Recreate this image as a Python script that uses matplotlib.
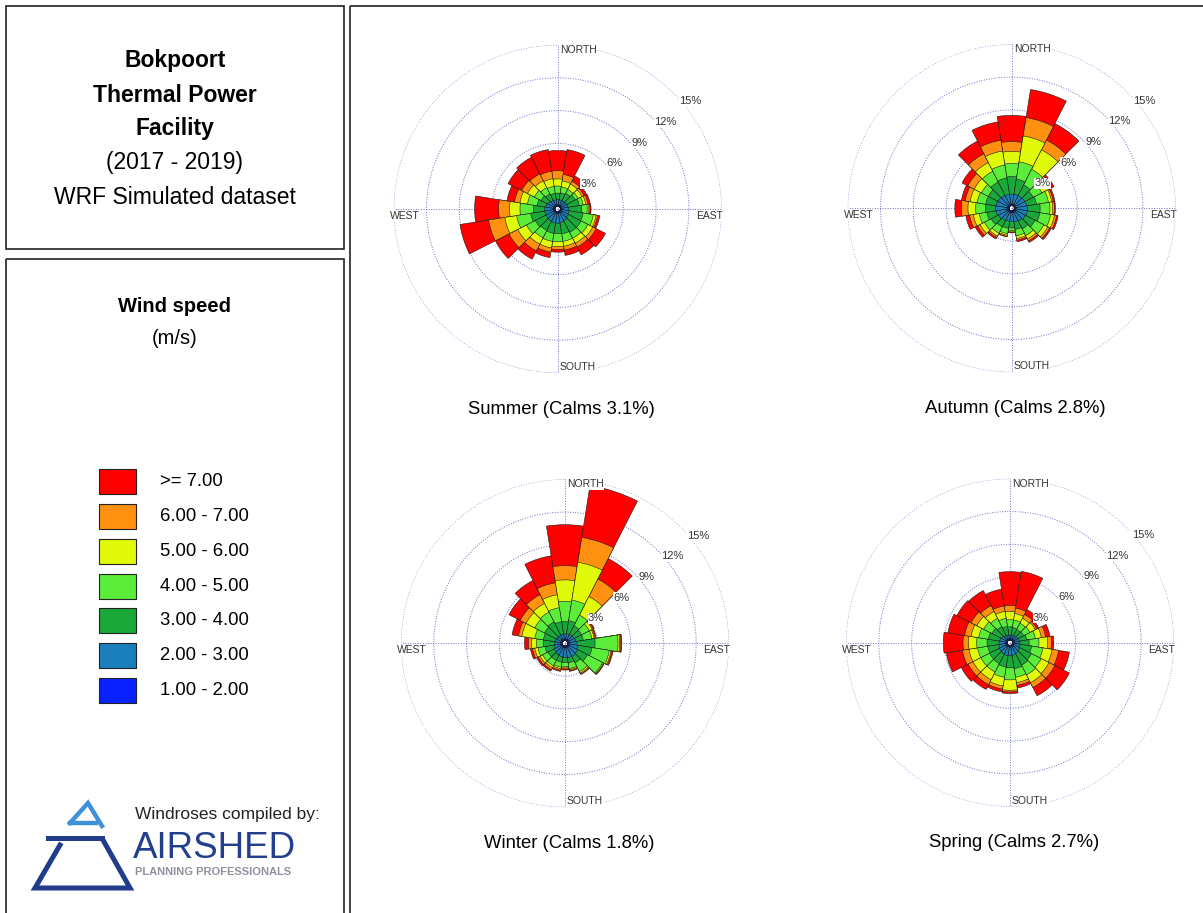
import numpy as np
import matplotlib.pyplot as plt
from matplotlib import font_manager
from matplotlib.patches import Rectangle
from matplotlib.transforms import offset_copy

W, H = 1203, 913

# sector centres, degrees clockwise from north
directions = np.arange(0, 360, 18)

speed_labels = [">= 7.00", "6.00 - 7.00", "5.00 - 6.00", "4.00 - 5.00",
                "3.00 - 4.00", "2.00 - 3.00", "1.00 - 2.00"]
speed_colors = ["#ff0000", "#ff9010", "#e1fa0a", "#5cec3a",
                "#1ba83a", "#1c7fbd", "#0a22ff"]   # same order as labels

# cumulative frequency (%) up to the top of each class: 1-2, 2-3, ... , >=7
summer = [
    [0.4] * 20,
    [0.85, 0.85, 0.85, 0.9, 0.95, 1.0, 1.05, 1.1, 1.2, 1.25, 1.3, 1.3, 1.25, 1.2, 1.2, 1.2, 1.1, 1.0, 0.9, 0.85],
    [1.45, 1.5, 1.6, 1.8, 2.0, 2.2, 2.35, 2.4, 2.4, 2.3, 2.25, 2.25, 2.2, 2.3, 2.5, 2.2, 1.9, 1.7, 1.55, 1.45],
    [2.1, 2.05, 2.0, 2.1, 2.35, 2.7, 3.3, 3.1, 3.0, 3.0, 3.0, 3.0, 2.95, 3.2, 3.8, 3.45, 2.8, 2.4, 2.2, 2.1],
    [2.75, 2.6, 2.55, 2.5, 2.6, 2.85, 3.55, 3.6, 3.5, 3.45, 3.45, 3.6, 3.6, 4.1, 4.9, 4.4, 3.5, 3.1, 2.9, 2.8],
    [3.5, 3.2, 2.85, 2.7, 2.8, 2.95, 3.7, 3.95, 3.9, 3.8, 3.7, 4.0, 4.3, 5.0, 6.4, 5.4, 4.0, 3.7, 3.6, 3.5],
    [5.35, 5.5, 3.4, 2.95, 3.0, 3.05, 3.9, 4.9, 4.7, 4.3, 3.95, 4.5, 5.15, 6.4, 9.05, 7.6, 4.7, 5.1, 5.3, 5.5],
]
autumn = [
    [0.4] * 20,
    [1.3, 1.3, 1.3, 1.35, 1.4, 1.45, 1.45, 1.4, 1.3, 1.25, 1.2, 1.2, 1.25, 1.35, 1.45, 1.5, 1.45, 1.4, 1.35, 1.3],
    [2.9, 2.7, 2.4, 2.2, 2.3, 2.6, 2.6, 2.4, 2.1, 1.95, 1.8, 1.85, 1.9, 2.1, 2.3, 2.4, 2.4, 2.4, 2.7, 2.8],
    [4.1, 4.3, 4.0, 3.1, 3.4, 3.5, 3.6, 3.3, 2.8, 2.55, 2.05, 2.35, 2.55, 2.8, 3.0, 3.3, 3.2, 3.1, 3.8, 4.0],
    [5.2, 6.7, 6.0, 3.85, 3.7, 3.75, 3.95, 3.7, 3.15, 2.8, 2.15, 2.5, 2.85, 3.25, 3.55, 4.0, 3.85, 3.85, 4.7, 5.3],
    [6.1, 8.4, 7.0, 4.15, 3.85, 3.9, 4.15, 3.9, 3.35, 2.95, 2.2, 2.6, 3.0, 3.5, 3.9, 4.6, 4.3, 4.5, 5.6, 6.3],
    [8.5, 11.0, 8.7, 4.35, 4.0, 4.0, 4.3, 4.05, 3.5, 3.1, 2.25, 2.65, 3.15, 3.75, 4.25, 5.2, 4.65, 5.1, 6.9, 8.0],
]
winter = [
    [0.4] * 20,
    [0.85, 0.9, 0.9, 0.95, 1.0, 1.1, 1.2, 1.3, 1.35, 1.35, 1.3, 1.25, 1.2, 1.1, 1.0, 0.95, 0.9, 0.85, 0.85, 0.85],
    [2.0, 2.1, 1.8, 1.7, 1.7, 2.75, 2.5, 2.3, 2.0, 1.8, 1.75, 1.75, 1.75, 1.75, 1.85, 2.0, 2.0, 2.1, 2.2, 2.0],
    [3.85, 4.0, 2.9, 2.5, 2.5, 4.85, 4.1, 3.85, 2.9, 2.35, 2.15, 2.2, 2.3, 2.3, 2.5, 2.6, 2.8, 3.1, 3.2, 3.3],
    [5.8, 7.5, 4.8, 2.8, 2.7, 5.0, 4.25, 3.95, 3.05, 2.45, 2.25, 2.35, 2.5, 2.55, 2.8, 3.05, 4.0, 4.0, 4.1, 4.5],
    [7.1, 9.8, 6.6, 2.9, 2.8, 5.1, 4.35, 4.0, 3.15, 2.55, 2.35, 2.5, 2.7, 2.75, 3.0, 3.35, 4.3, 4.6, 5.0, 5.6],
    [10.85, 14.6, 8.7, 3.0, 2.9, 5.2, 4.45, 4.05, 3.2, 2.6, 2.45, 2.6, 2.85, 2.9, 3.2, 3.7, 4.9, 5.75, 6.45, 8.1],
]
spring = [
    [0.4] * 20,
    [0.7, 0.7, 0.75, 0.8, 0.85, 0.9, 0.95, 1.0, 1.1, 1.15, 1.2, 1.2, 1.15, 1.1, 1.05, 1.0, 0.95, 0.85, 0.75, 0.7],
    [1.45, 1.4, 1.35, 1.4, 1.55, 1.75, 2.0, 2.2, 2.3, 2.4, 2.3, 2.25, 2.15, 2.1, 2.05, 2.1, 2.0, 1.85, 1.65, 1.5],
    [2.1, 2.1, 2.0, 2.05, 2.35, 2.65, 3.05, 3.2, 3.3, 3.2, 3.4, 3.2, 3.0, 3.0, 3.0, 3.05, 2.9, 2.7, 2.5, 2.25],
    [2.85, 2.7, 2.5, 2.6, 2.9, 3.45, 3.9, 4.0, 4.1, 3.7, 4.35, 4.0, 3.8, 3.8, 3.8, 3.8, 3.6, 3.4, 3.2, 2.9],
    [3.4, 3.2, 2.9, 2.75, 3.3, 3.8, 4.5, 4.6, 4.6, 3.95, 4.5, 4.3, 4.3, 4.3, 4.4, 4.3, 4.2, 4.0, 3.8, 3.4],
    [6.5, 6.6, 3.4, 2.95, 3.7, 4.0, 5.5, 6.1, 5.45, 4.2, 4.65, 4.55, 4.8, 5.0, 5.9, 6.1, 5.75, 5.45, 5.35, 4.95],
]
seasons = ["Summer", "Autumn", "Winter", "Spring"]
calms = [3.1, 2.8, 1.8, 2.7]
rings = [3, 6, 9, 12, 15]

# fonts: Arial Narrow look if the narrow Liberation face is there
installed = {f.name for f in font_manager.fontManager.ttflist}
if "Liberation Sans Narrow" in installed:
    fam, k = ["Liberation Sans Narrow", "DejaVu Sans"], 1.2
else:
    fam, k = ["Liberation Sans", "DejaVu Sans"], 1.0
plt.rcParams["font.family"] = fam

fig = plt.figure(figsize=(W / 100, H / 100), dpi=100)
bg = fig.add_axes([0, 0, 1, 1])
bg.set_xlim(0, W)
bg.set_ylim(H, 0)
bg.axis("off")

# panel frames
for x0, y0, x1, y1 in [(6, 6, 344, 249), (6, 259, 344, 918), (350, 6, 1210, 918)]:
    bg.add_patch(Rectangle((x0, y0), x1 - x0, y1 - y0, fill=False, lw=1.2, ec="#222222"))

# title block
bg.text(175, 60, "Bokpoort", fontsize=16.5 * k, fontweight="bold", ha="center", va="center")
bg.text(175, 95, "Thermal Power", fontsize=16.5 * k, fontweight="bold", ha="center", va="center")
bg.text(175, 129, "Facility", fontsize=16.5 * k, fontweight="bold", ha="center", va="center")
bg.text(175, 163, "(2017 - 2019)", fontsize=16.5 * k, ha="center", va="center")
bg.text(175, 197, "WRF Simulated dataset", fontsize=16.5 * k, ha="center", va="center")

# legend
bg.text(175, 307, "Wind speed", fontsize=14.5 * k, fontweight="bold", ha="center", va="center")
bg.text(175, 338, "(m/s)", fontsize=14.5 * k, ha="center", va="center")
for i, (lab, col) in enumerate(zip(speed_labels, speed_colors)):
    yc = 482 + i * 34.7
    bg.add_patch(Rectangle((99, yc - 12.5), 37, 25, fc=col, ec="#222222", lw=0.8))
    bg.text(160, yc, lab, fontsize=13.3 * k, ha="left", va="center")

# logo
bg.text(135, 814, "Windroses compiled by:", fontsize=12.5 * k, color="#222222", ha="left", va="center")
bg.text(133, 849, "AIRSHED", fontsize=26.5 * k, color="#223f8e", ha="left", va="center")
bg.text(135, 872, "PLANNING PROFESSIONALS", fontsize=8 * k, fontweight="bold", color="#8d929c",
        ha="left", va="center")
bg.plot([70, 88, 102], [823, 803, 826], color="#3f92d8", lw=3.2, solid_joinstyle="miter")
bg.plot([70, 96], [823, 823], color="#3f92d8", lw=3.2)
bg.plot([48, 102], [838, 838], color="#203c8a", lw=3.6)
bg.plot([60, 35, 130, 103], [845, 888, 888, 840], color="#203c8a", lw=3.6, solid_joinstyle="miter")

# wind roses
R = 164
centres = [(557.7, 209.0), (1011.7, 208.3), (565.0, 643.3), (1010.0, 642.7)]
r0 = 0.25
theta = np.radians(directions)
full = np.linspace(0, 2 * np.pi, 400)
ring_col = "#6a72c0"

for (cx, cy), name, cum, calm in zip(centres, seasons, [summer, autumn, winter, spring], calms):
    ax = fig.add_axes([(cx - R) / W, 1 - (cy + R) / H, 2 * R / W, 2 * R / H], projection="polar")
    ax.set_theta_zero_location("N")
    ax.set_theta_direction(-1)
    ax.axis("off")

    for r in rings:
        ax.plot(full, np.full_like(full, r), color=ring_col, lw=0.7, ls=(0, (1, 1.6)), zorder=1)
    for a in [0, np.pi / 2, np.pi, 3 * np.pi / 2]:
        ax.plot([a, a], [0, 15], color=ring_col, lw=0.7, ls=(0, (1, 1.6)), zorder=1)

    # stack: draw outermost class first, inner ones on top
    for lvl in range(6, -1, -1):
        col = speed_colors[6 - lvl]
        ax.bar(theta, np.array(cum[lvl]) - r0, width=np.radians(18), bottom=r0,
               color=col, edgecolor="#1a1a1a", lw=0.4, zorder=2)
    ax.set_ylim(0, 15)

    for r in rings:
        ax.text(np.radians(51), r + 0.65, f"{r}%", fontsize=8 * k, color="#333333",
                ha="center", va="center", zorder=6,
                bbox=dict(fc="white", ec="none", pad=0.3))

    def lab(a, text, dx, dy, ha):
        tr = offset_copy(ax.transData, fig=fig, x=dx, y=dy, units="dots")
        ax.text(a, 15, text, transform=tr, fontsize=7.5 * k, color="#333333", ha=ha, va="center",
                zorder=6, bbox=dict(fc="white", ec="none", pad=0.4))

    lab(0, "NORTH", 2, -5, "left")
    lab(np.pi, "SOUTH", 2, 6, "left")
    lab(3 * np.pi / 2, "WEST", -4, -7, "left")
    lab(np.pi / 2, "EAST", 1, -7, "right")

    bg.text(cx + 4, cy + 200, f"{name} (Calms {calm}%)", fontsize=13.3 * k, ha="center", va="center")

fig.savefig("out.png", dpi=100)
